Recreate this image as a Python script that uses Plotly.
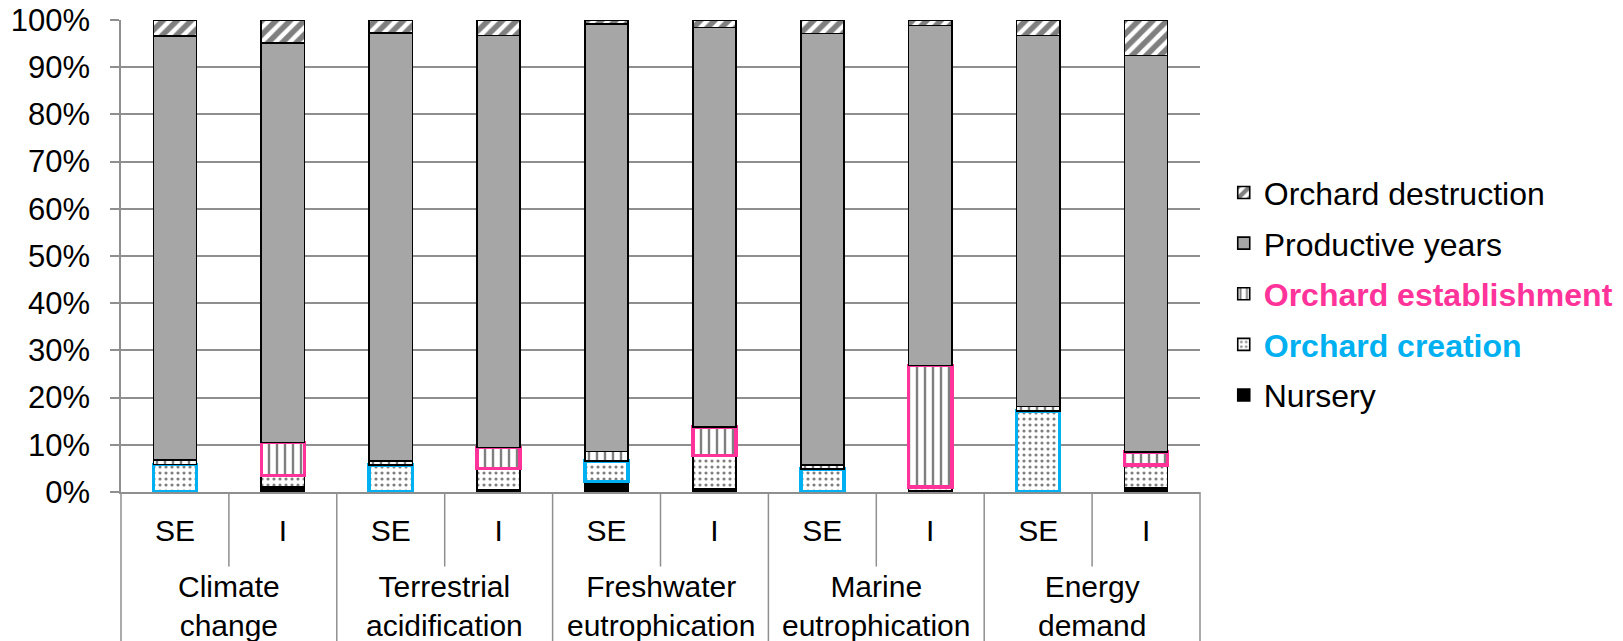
import plotly.graph_objects as go

# Impact categories (two-line labels) and the two orchard systems per category
categories = ["Climate<br>change", "Terrestrial<br>acidification", "Freshwater<br>eutrophication",
              "Marine<br>eutrophication", "Energy<br>demand"]
systems = ["SE", "I"]

# Share of each life-cycle stage in the total impact (%), order: CC SE, CC I, TA SE, TA I, ...
nursery = [0.0, 1.0, 0.0, 0.5, 2.2, 0.6, 0.0, 0.3, 0.0, 0.9]
creation = [5.8, 2.5, 5.7, 4.5, 4.4, 7.1, 4.9, 0.8, 17.2, 4.8]
establishment = [1.0, 7.0, 0.9, 4.4, 2.0, 6.1, 0.8, 25.7, 0.9, 2.8]
productive = [89.8, 84.6, 90.7, 87.3, 90.5, 84.6, 91.4, 72.0, 78.6, 84.0]
destruction = [3.4, 4.9, 2.7, 3.3, 0.9, 1.6, 2.9, 1.2, 3.3, 7.5]

y_ticks = list(range(0, 101, 10))

FONT = "Liberation Sans, Arial, sans-serif"
BLUE = "#00B0F0"
PINK = "#FF3399"
GRID = "#8f8f8f"
THIN = 1.6
THICK = 3.5

labels = [s for _ in categories for s in systems]
pos = list(range(len(labels)))


def outline(highlight_system, color):
    cols, widths = [], []
    for s in labels:
        if s == highlight_system:
            cols.append(color)
            widths.append(THICK)
        else:
            cols.append("black")
            widths.append(THIN)
    return cols, widths


def bar(name, values, pattern, fill, rank, line_cols=None, line_widths=None):
    if line_cols is None:
        line_cols = ["black"] * len(values)
        line_widths = [THIN] * len(values)
    # black-outlined bars first so the legend swatch keeps a black border
    order = sorted(range(len(values)), key=lambda i: line_cols[i] != "black")
    marker = dict(color=fill,
                  line=dict(color=[line_cols[i] for i in order],
                            width=[line_widths[i] for i in order]))
    if pattern is not None:
        marker["pattern"] = pattern
    return go.Bar(
        name=name, legendgroup=name, legendrank=rank,
        x=[pos[i] for i in order], y=[values[i] for i in order],
        width=0.4, marker=marker, hoverinfo="skip",
    )


fig = go.Figure()
fig.add_trace(bar("Nursery", nursery, None, "black", 5))
c_cols, c_w = outline("SE", BLUE)
fig.add_trace(bar("<b><span style='color:%s'>Orchard creation</span></b>" % BLUE, creation,
                  dict(shape=".", size=6, solidity=0.22, fgcolor="black", bgcolor="white"),
                  "white", 4, c_cols, c_w))
e_cols, e_w = outline("I", PINK)
fig.add_trace(bar("<b><span style='color:%s'>Orchard establishment</span></b>" % PINK, establishment,
                  dict(shape="|", size=8, solidity=0.3, fgcolor="black", bgcolor="white"),
                  "white", 3, e_cols, e_w))
fig.add_trace(bar("Productive years", productive, None, "#A6A6A6", 2))
fig.add_trace(bar("Orchard destruction", destruction,
                  dict(shape="/", size=10, solidity=0.55, fgcolor="black", bgcolor="white"),
                  "white", 1))

# Category separators below the axis: short ones between systems, long ones between categories
shapes = []
n = len(labels)
for k in range(n + 1):
    y_end = -0.158 if k % 2 else -0.34
    shapes.append(dict(type="line", xref="paper", yref="paper", x0=k / n, x1=k / n,
                       y0=0, y1=y_end, line=dict(color=GRID, width=1.5)))

annotations = []
for j, cat in enumerate(categories):
    annotations.append(dict(x=2 * j + 0.5, y=-0.242, xref="x", yref="paper", text=cat,
                            showarrow=False, yanchor="middle", xanchor="center",
                            font=dict(family=FONT, size=30, color="black")))

fig.update_layout(
    width=1623, height=641,
    margin=dict(l=121, r=423, t=20, b=149, autoexpand=False),
    barmode="stack",
    plot_bgcolor="white", paper_bgcolor="white",
    font=dict(family=FONT, size=30, color="black"),
    shapes=shapes, annotations=annotations,
    legend=dict(x=1.022, y=0.42, xanchor="left", yanchor="middle",
                traceorder="grouped", tracegroupgap=6,
                font=dict(family=FONT, size=32, color="black"),
                bgcolor="rgba(0,0,0,0)"),
    xaxis=dict(range=[-0.5, n - 0.5], tickmode="array", tickvals=pos, ticktext=labels,
               showgrid=False, showline=True, linecolor=GRID, linewidth=2,
               ticks="", ticklabelstandoff=11, zeroline=False,
               tickfont=dict(family=FONT, size=30, color="black")),
    yaxis=dict(range=[0, 100], tickmode="array", tickvals=y_ticks,
               ticktext=["%d%%" % v for v in y_ticks],
               showgrid=True, gridcolor=GRID, gridwidth=1.5,
               showline=True, linecolor=GRID, linewidth=1.5,
               ticks="outside", ticklen=9, tickcolor=GRID, tickwidth=1.5,
               ticklabelstandoff=14, zeroline=False,
               tickfont=dict(family=FONT, size=31, color="black")),
)

fig.write_html("out.html")
